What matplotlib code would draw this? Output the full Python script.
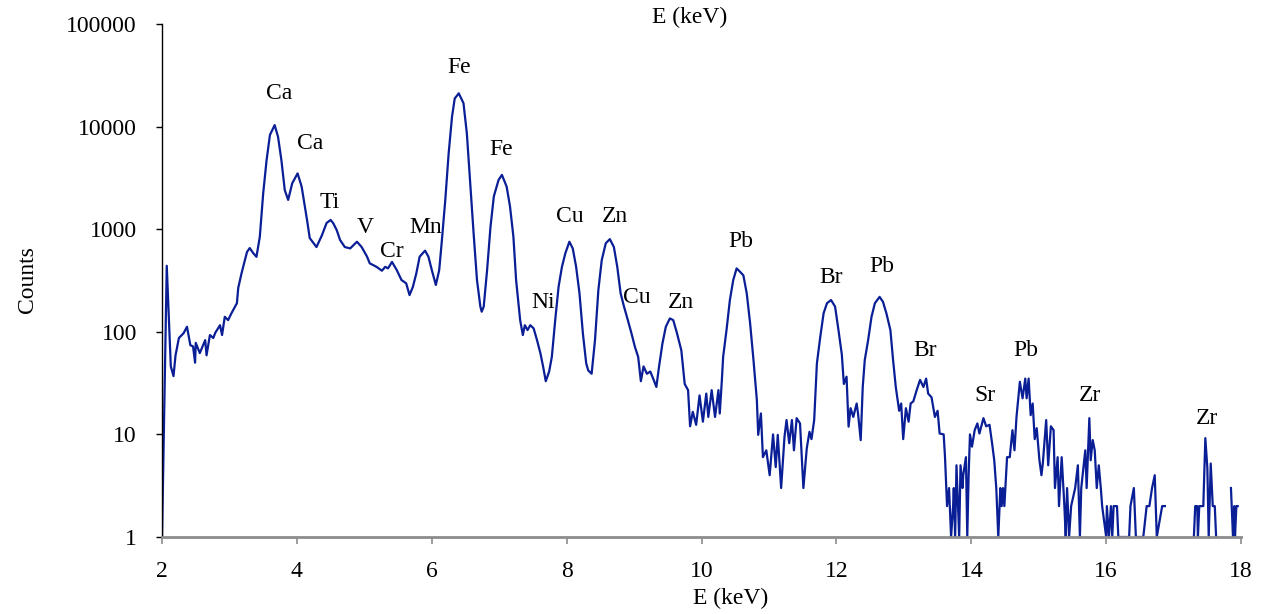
import numpy as np
import matplotlib
matplotlib.use("Agg")
import matplotlib.pyplot as plt
from matplotlib.ticker import FixedLocator, FuncFormatter, NullLocator

plt.rcParams["font.family"] = ["Liberation Serif", "DejaVu Serif"]

LINE = "#0A1E96"
GRAY = "#8C8C8C"

# spectrum (NaN = gap in the trace)
energy = [
    2.00, 2.07, 2.13, 2.17, 2.20, 2.25, 2.32, 2.37, 2.42, 2.46, 2.49, 2.50, 2.56, 2.64, 2.66,
    2.71, 2.76, 2.79, 2.86, 2.89, 2.93, 2.98, 3.03, 3.11, 3.13, 3.18, 3.26, 3.30, 3.35, 3.40,
    3.45, 3.50, 3.55, 3.60, 3.67, 3.72, 3.77, 3.82, 3.87, 3.93, 4.01, 4.07, 4.15, 4.19, 4.29,
    4.37, 4.44, 4.50, 4.54, 4.59, 4.64, 4.71, 4.79, 4.89, 4.96, 5.04, 5.08, 5.18, 5.26, 5.31,
    5.35, 5.41, 5.48, 5.55, 5.62, 5.67, 5.72, 5.77, 5.82, 5.90, 5.95, 6.00, 6.06, 6.11, 6.15,
    6.20, 6.25, 6.30, 6.34, 6.40, 6.47, 6.52, 6.57, 6.62, 6.67, 6.72, 6.74, 6.77, 6.82, 6.87,
    6.92, 6.99, 7.04, 7.11, 7.16, 7.21, 7.25, 7.28, 7.31, 7.35, 7.38, 7.42, 7.46, 7.51, 7.56,
    7.61, 7.65, 7.69, 7.74, 7.78, 7.83, 7.88, 7.93, 7.98, 8.04, 8.09, 8.14, 8.19, 8.24, 8.29,
    8.32, 8.37, 8.42, 8.47, 8.52, 8.58, 8.64, 8.70, 8.75, 8.80, 8.85, 8.90, 8.96, 9.01, 9.06,
    9.10, 9.14, 9.19, 9.24, 9.29, 9.33, 9.37, 9.42, 9.47, 9.53, 9.58, 9.63, 9.70, 9.75, 9.80,
    9.83, 9.87, 9.92, 9.97, 10.02, 10.07, 10.10, 10.15, 10.20, 10.25, 10.27, 10.30, 10.32, 10.37, 10.42,
    10.47, 10.52, 10.57, 10.62, 10.67, 10.72, 10.77, 10.82, 10.84, 10.88, 10.91, 10.96, 11.01, 11.06, 11.10,
    11.13, 11.18, 11.23, 11.26, 11.30, 11.34, 11.37, 11.41, 11.46, 11.51, 11.56, 11.60, 11.63, 11.67, 11.71,
    11.76, 11.81, 11.86, 11.92, 11.98, 12.03, 12.08, 12.11, 12.15, 12.18, 12.21, 12.25, 12.30, 12.32, 12.36,
    12.39, 12.42, 12.47, 12.52, 12.57, 12.64, 12.69, 12.74, 12.80, 12.84, 12.88, 12.93, 12.96, 12.99, 13.03,
    13.07, 13.10, 13.14, 13.19, 13.24, 13.29, 13.33, 13.36, 13.41, 13.46, 13.50, 13.53, 13.59, 13.61, 13.64,
    13.67, 13.70, 13.73, 13.74, 13.76, 13.78, 13.82, 13.84, 13.87, 13.88, 13.92, 13.94, 13.96, 13.98, 14.01,
    14.05, 14.09, 14.12, 14.18, 14.22, 14.27, 14.31, 14.34, 14.37, 14.40, 14.43, 14.45, 14.47, 14.49, 14.53,
    14.57, 14.61, 14.64, 14.67, 14.72, 14.76, 14.80, 14.82, 14.85, 14.88, 14.91, 14.94, 14.97, 15.01, 15.04,
    15.06, 15.11, 15.14, 15.18, 15.22, 15.24, 15.28, 15.30, 15.34, 15.38, 15.40, 15.42, 15.45, 15.48, 15.54,
    15.58, 15.61, 15.63, 15.69, 15.71, 15.75, 15.77, 15.80, 15.83, 15.86, 15.89, 15.92, 15.94, 16.00, 16.01,
    16.04, 16.07, 16.09, 16.11, 16.16, 16.18, 16.34, 16.36, 16.41, 16.44, 16.55, 16.60, 16.64, 16.68, 16.72,
    16.75, 16.83, 16.87, 17.00, 17.30, 17.32, 17.35, 17.36, 17.38, 17.44, 17.47, 17.50, 17.52, 17.55, 17.58,
    17.61, 17.63, 17.70, 17.85, 17.88, 17.90, 17.91, 17.93, 17.95,
]
counts = [
    1, 440, 46, 37, 59, 87, 97, 112, 74, 72, 50, 78, 62, 83, 59,
    93, 87, 98, 116, 93, 140, 130, 152, 190, 268, 375, 600, 655, 587, 538,
    845, 2240, 4700, 8300, 10350, 7960, 4700, 2400, 1930, 2800, 3500, 2600, 1230, 820, 670,
    870, 1150, 1230, 1140, 980, 785, 670, 650, 755, 670, 540, 465, 430, 394, 430,
    415, 480, 400, 320, 297, 228, 275, 370, 540, 618, 540, 400, 286, 400, 785,
    1930, 5500, 12500, 18800, 21100, 16900, 8550, 2800, 910, 320, 176, 157, 176, 400, 1050,
    2090, 3020, 3380, 2600, 1660, 845, 320, 204, 130, 93, 116, 104, 116, 108, 83,
    62, 46, 33, 41, 57, 130, 275, 430, 582, 755, 650, 430, 237, 97, 49,
    42, 39, 83, 256, 500, 730, 800, 670, 430, 237, 176, 135, 97, 72, 57,
    33, 46, 39, 41, 34, 29, 46, 77, 112, 135, 130, 100, 66, 31, 27,
    12, 16.6, 12.4, 24, 13.3, 25, 14.8, 27, 14.8, 27, 16, 33, 57, 104, 204,
    320, 415, 385, 355, 237, 121, 53, 21.6, 9.9, 16, 6, 7, 4, 10, 4.8,
    9.9, 3, 9.5, 13.8, 8.2, 13.8, 7, 14.4, 12.8, 3, 7.3, 10.6, 9, 13.8, 49,
    89, 152, 190, 204, 176, 104, 60, 31, 36.5, 11.9, 18, 14.8, 20, 16, 8.8,
    29, 53, 83, 140, 190, 219, 196, 152, 104, 53, 29, 17, 20, 9, 18,
    13.3, 20, 21, 27, 34, 29, 35, 25, 23, 14.8, 17, 10.2, 10, 6, 2,
    3, 1, 2, 3, 1, 5, 1, 5, 3, 4, 6, 1, 4, 10, 7.6,
    11, 12.8, 10.2, 14.4, 12, 12.4, 8, 5.6, 3, 1, 3, 2, 3, 2, 6,
    6, 11, 7, 14.8, 32.6, 22.5, 35, 22.5, 35, 15.4, 20, 9, 11.5, 5.6, 4,
    5.2, 13.8, 5, 12, 11, 3, 6, 2, 6, 2, 1, 3, 1, 2, 3,
    5, 1, 3, 7, 3, 14.4, 5.6, 8.8, 7, 3, 5, 3, 2, 1, 2,
    1, 2, 1, 2, 2, 1, 1, 2, 3, 1, 1, 2, 2, 3, 4,
    1, 2, 2, np.nan, 1, 2, 2, 1, 2, 2, 9.2, 4.7, 1, 5.2, 2,
    2, 1, np.nan, 3, 1, 2, 1, 2, 2,
]

# peak labels: element, energy, count height
labels = ["Ca", "Ca", "Ti", "V", "Cr", "Mn", "Fe", "Fe", "Ni", "Cu", "Zn", "Cu", "Zn",
          "Pb", "Br", "Pb", "Br", "Sr", "Pb", "Zr", "Zr"]
label_e = [3.73, 4.19, 4.49, 5.02, 5.40, 5.91, 6.40, 7.03, 7.65, 8.05, 8.72, 9.04, 9.70,
           10.59, 11.92, 12.68, 13.31, 14.20, 14.81, 15.76, 17.49]
label_c = [21200, 6900, 1840, 1050, 600, 1050, 38000, 6000, 195, 1340, 1340, 218, 195,
           767, 335, 430, 66, 24, 66, 24, 14.4]

ytick_vals = [1, 10, 100, 1000, 10000, 100000]
xtick_vals = [2, 4, 6, 8, 10, 12, 14, 16, 18]

fig = plt.figure(figsize=(12.61, 6.14), dpi=100)
ax = fig.add_axes([0.1285, 0.1254, 0.8557, 0.8355])

ax.plot(energy, counts, color=LINE, lw=1.6)
ax.set_yscale("log")
ax.set_ylim(1, 100000)
ax.set_xlim(2, 18)

for name, e, c in zip(labels, label_e, label_c):
    ax.text(e, c, name, ha="center", va="center", fontsize=17)

ax.yaxis.set_major_locator(FixedLocator(ytick_vals))
ax.yaxis.set_minor_locator(NullLocator())
ax.yaxis.set_major_formatter(FuncFormatter(lambda v, p: f"{int(round(v))}"))
ax.xaxis.set_major_locator(FixedLocator(xtick_vals))
ax.tick_params(axis="y", direction="out", length=4, width=1, pad=14, labelsize=17)
ax.tick_params(axis="x", direction="out", length=5, width=1.2, color=GRAY, pad=12, labelsize=17)

ax.spines[["top", "right"]].set_visible(False)
ax.spines["left"].set_color("black")
ax.spines["left"].set_linewidth(1)
ax.spines["bottom"].set_color(GRAY)
ax.spines["bottom"].set_linewidth(2)

fig.text(690 / 1261, 1 - 17 / 614, "E (keV)", ha="center", va="center", fontsize=17)
fig.text(731 / 1261, 1 - 598 / 614, "E (keV)", ha="center", va="center", fontsize=17)
fig.text(28 / 1261, 1 - 280 / 614, "Counts", ha="center", va="center", fontsize=17,
         rotation=90)

fig.savefig("out.png", dpi=100)
